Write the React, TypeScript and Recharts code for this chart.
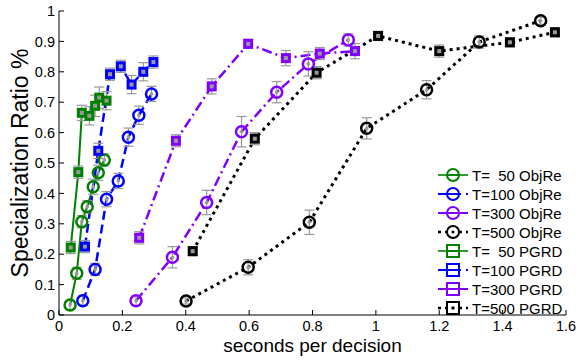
import { LineChart, Line, XAxis, YAxis, ErrorBar } from 'recharts';

// seconds per decision / specialization ratio
const xObj50 = [0.035, 0.056, 0.072, 0.089, 0.108, 0.124, 0.143];
const yObj50 = [0.033, 0.137, 0.307, 0.356, 0.422, 0.468, 0.51];
const eObj50 = [0.015, 0.02, 0.02, 0.02, 0.025, 0.025, 0.02];

const xObj100 = [0.075, 0.114, 0.15, 0.187, 0.219, 0.252, 0.292];
const yObj100 = [0.047, 0.15, 0.381, 0.441, 0.585, 0.657, 0.727];
const eObj100 = [0.015, 0.02, 0.025, 0.025, 0.03, 0.03, 0.025];

const xObj300 = [0.243, 0.358, 0.466, 0.576, 0.687, 0.787, 0.913];
const yObj300 = [0.047, 0.19, 0.37, 0.603, 0.733, 0.826, 0.905];
const eObj300 = [0.015, 0.035, 0.04, 0.05, 0.035, 0.04, 0.02];

const xObj500 = [0.401, 0.597, 0.79, 0.971, 1.16, 1.326, 1.52];
const yObj500 = [0.046, 0.157, 0.305, 0.614, 0.741, 0.898, 0.968];
const eObj500 = [0.01, 0.025, 0.04, 0.035, 0.03, 0.02, 0.012];

const xPg50 = [0.037, 0.061, 0.072, 0.096, 0.114, 0.127, 0.15];
const yPg50 = [0.222, 0.47, 0.665, 0.655, 0.688, 0.715, 0.705];
const ePg50 = [0.02, 0.02, 0.025, 0.03, 0.035, 0.035, 0.03];

const xPg100 = [0.082, 0.124, 0.161, 0.195, 0.229, 0.266, 0.298];
const yPg100 = [0.225, 0.54, 0.792, 0.818, 0.758, 0.8, 0.832];
const ePg100 = [0.02, 0.025, 0.02, 0.02, 0.03, 0.03, 0.02];

const xPg300 = [0.253, 0.369, 0.482, 0.597, 0.716, 0.823, 0.934];
const yPg300 = [0.254, 0.573, 0.752, 0.892, 0.845, 0.86, 0.868];
const ePg300 = [0.02, 0.02, 0.025, 0.015, 0.025, 0.02, 0.025];

const xPg500 = [0.422, 0.618, 0.813, 1.007, 1.2, 1.423, 1.565];
const yPg500 = [0.21, 0.58, 0.797, 0.918, 0.868, 0.897, 0.93];
const ePg500 = [0.015, 0.02, 0.02, 0.015, 0.02, 0.015, 0.015];

const xTicks = [0, 0.2, 0.4, 0.6, 0.8, 1, 1.2, 1.4, 1.6];
const yTicks = [0, 0.1, 0.2, 0.3, 0.4, 0.5, 0.6, 0.7, 0.8, 0.9, 1];

const GREEN = '#008000';
const BLUE = '#0000ff';
const PURPLE = '#8000ff';
const BLACK = '#000000';
const GRAY = '#9a9a9a';
const FONT = '"Liberation Sans", Arial, Helvetica, sans-serif';

const zip = (xs: number[], ys: number[], es: number[]) =>
  xs.map((x, i) => ({ x, y: ys[i], e: es[i] }));

type Series = {
  name: string;
  data: { x: number; y: number; e: number }[];
  color: string;
  dash?: string;
  width: number;
  marker: 'circle' | 'square';
};

const series: Series[] = [
  { name: 'T=  50 ObjRe', data: zip(xObj50, yObj50, eObj50), color: GREEN, width: 2, marker: 'circle' },
  { name: 'T=100 ObjRe', data: zip(xObj100, yObj100, eObj100), color: BLUE, dash: '9 5', width: 2.5, marker: 'circle' },
  { name: 'T=300 ObjRe', data: zip(xObj300, yObj300, eObj300), color: PURPLE, dash: '10 4 2 4', width: 2.5, marker: 'circle' },
  { name: 'T=500 ObjRe', data: zip(xObj500, yObj500, eObj500), color: BLACK, dash: '3 4', width: 3, marker: 'circle' },
  { name: 'T=  50 PGRD', data: zip(xPg50, yPg50, ePg50), color: GREEN, width: 2, marker: 'square' },
  { name: 'T=100 PGRD', data: zip(xPg100, yPg100, ePg100), color: BLUE, dash: '9 5', width: 2.5, marker: 'square' },
  { name: 'T=300 PGRD', data: zip(xPg300, yPg300, ePg300), color: PURPLE, dash: '10 4 2 4', width: 2.5, marker: 'square' },
  { name: 'T=500 PGRD', data: zip(xPg500, yPg500, ePg500), color: BLACK, dash: '3 4', width: 3, marker: 'square' },
];

function makeDot(color: string, marker: 'circle' | 'square') {
  return (props: any) => {
    const { cx, cy, index } = props;
    if (cx == null || cy == null) return <g key={index} />;
    if (marker === 'circle') {
      return (
        <g key={index}>
          <circle cx={cx} cy={cy} r={5.5} fill="none" stroke={color} strokeWidth={2.5} />
          <circle cx={cx} cy={cy} r={1.8} fill={GRAY} />
        </g>
      );
    }
    return (
      <g key={index}>
        <rect x={cx - 5} y={cy - 5} width={10} height={10} fill={color} />
        <rect x={cx - 2} y={cy - 2} width={4} height={4} fill={GRAY} />
      </g>
    );
  };
}

function LegendBox() {
  const rowH = 19;
  return (
    <svg
      width={140}
      height={160}
      style={{ position: 'absolute', left: 432, top: 165, overflow: 'visible' }}
    >
      {series.map((s, i) => {
        const cy = 10 + i * rowH;
        const mx = 21;
        return (
          <g key={s.name}>
            <line x1={6} x2={36} y1={cy} y2={cy} stroke={s.color} strokeWidth={s.width * 0.8} strokeDasharray={s.dash} />
            {s.marker === 'circle' ? (
              <circle cx={mx} cy={cy} r={6} fill="#fff" stroke={s.color} strokeWidth={2} />
            ) : (
              <rect x={mx - 6} y={cy - 6} width={12} height={12} fill="#fff" stroke={s.color} strokeWidth={2} />
            )}
            {s.color === BLACK ? (
              s.marker === 'circle' ? (
                <circle cx={mx} cy={cy} r={1.5} fill={BLACK} />
              ) : (
                <rect x={mx - 1.5} y={cy - 1.5} width={3} height={3} fill={BLACK} />
              )
            ) : (
              <line x1={mx - 6} x2={mx + 6} y1={cy} y2={cy} stroke={s.color} strokeWidth={2} />
            )}
            <text x={40} y={cy + 5.5} fontSize={15} fontFamily={FONT} fill="#000" style={{ whiteSpace: 'pre' }}>
              {s.name}
            </text>
          </g>
        );
      })}
    </svg>
  );
}

export default function App() {
  return (
    <div style={{ position: 'absolute', left: 0, top: 0, width: 579, height: 362, background: '#fff' }}>
      <LineChart width={579} height={362} margin={{ top: 11, right: 13, bottom: 0, left: 0 }}>
        <XAxis
          xAxisId="b"
          type="number"
          dataKey="x"
          domain={[0, 1.6]}
          ticks={xTicks}
          tickFormatter={(v) => String(v)}
          allowDataOverflow
          height={47}
          tickSize={-5}
          tickMargin={11}
          stroke="#000"
          tick={{ fill: '#000', fontSize: 14.5, fontFamily: FONT }}
          label={{ value: 'seconds per decision', position: 'insideBottom', offset: 10, fontSize: 19, fill: '#000', fontFamily: FONT }}
        />
        <XAxis
          xAxisId="t"
          orientation="top"
          type="number"
          dataKey="x"
          domain={[0, 1.6]}
          ticks={xTicks}
          height={0}
          mirror
          tickSize={5}
          tickFormatter={() => ''}
          stroke="#000"
        />
        <YAxis
          yAxisId="l"
          type="number"
          domain={[0, 1]}
          ticks={yTicks}
          tickFormatter={(v) => String(v)}
          width={59}
          tickSize={-5}
          tickMargin={9}
          stroke="#000"
          tick={{ fill: '#000', fontSize: 14.5, fontFamily: FONT }}
          label={{ value: 'Specialization Ratio %', angle: -90, position: 'insideLeft', offset: 20, fontSize: 23, fill: '#000', fontFamily: FONT, style: { textAnchor: 'middle' } }}
        />
        <YAxis
          yAxisId="r"
          orientation="right"
          type="number"
          domain={[0, 1]}
          ticks={yTicks}
          width={0}
          mirror
          tickSize={5}
          tickFormatter={() => ''}
          stroke="#000"
        />
        {series.map((s) => (
          <Line
            key={s.name}
            xAxisId="b"
            yAxisId="l"
            data={s.data}
            dataKey="y"
            type="linear"
            stroke={s.color}
            strokeWidth={s.width}
            strokeDasharray={s.dash}
            dot={makeDot(s.color, s.marker)}
            activeDot={false}
            isAnimationActive={false}
          />
        ))}
        {series.map((s) => (
          <Line
            key={'err' + s.name}
            xAxisId="b"
            yAxisId="l"
            data={s.data}
            dataKey="y"
            stroke="none"
            dot={false}
            activeDot={false}
            legendType="none"
            isAnimationActive={false}
          >
            <ErrorBar dataKey="e" direction="y" width={5} stroke={GRAY} strokeWidth={1.2} />
          </Line>
        ))}
      </LineChart>
      <LegendBox />
    </div>
  );
}
